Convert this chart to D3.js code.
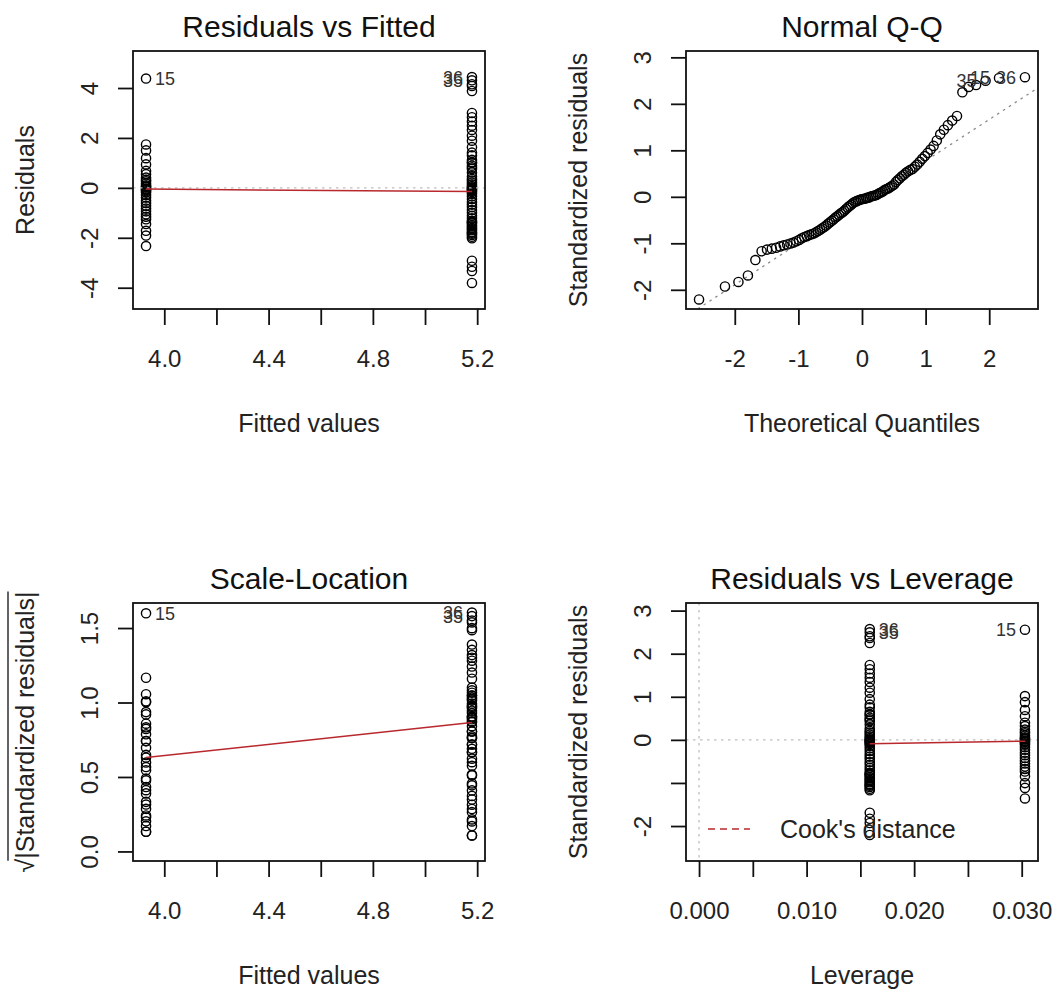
<!DOCTYPE html>
<html>
<head>
<meta charset="utf-8">
<script src="https://cdn.jsdelivr.net/npm/d3@7"></script>
<style>
  body { margin: 0; background: #fff; }
  svg { display: block; font-family: 'Liberation Sans', Arial, sans-serif; }
</style>
</head>
<body>
<div id="graph"></div>
<script>
// lm diagnostics (plot.lm style), model with only two fitted levels

// Fitted value of each group
const fittedLevels = [3.93, 5.18]

const residA = [4.38, 1.74, 1.50, 1.19, 0.94, 0.68, 0.55, 0.41, 0.32, 0.26, 0.17, 0.10, 0.05, 0.03,
  -0.03, -0.07, -0.09, -0.14, -0.19, -0.29, -0.39, -0.51, -0.61, -0.72, -0.83, -0.94, -1.06,
  -1.16, -1.26, -1.45, -1.72, -1.91, -2.33]
const idsA = ['15']

const residB = [4.44, 4.31, 4.15, 4.08, 3.88, 3.00, 2.83, 2.66, 2.49, 2.32, 2.09, 1.89, 1.63, 1.41,
  1.30, 1.12, 1.03, 1.00, 0.89, 0.82, 0.76, 0.62, 0.46, 0.36, 0.29, 0.21, 0.14, 0.07, 0.02, -0.02,
  -0.05, -0.08, -0.12, -0.17, -0.24, -0.34, -0.45, -0.57, -0.67, -0.77, -0.89, -1.00, -1.12, -1.22,
  -1.32, -1.36, -1.39, -1.42, -1.49, -1.54, -1.60, -1.65, -1.70, -1.77, -1.80, -1.84, -1.89, -1.96,
  -2.02, -2.92, -3.16, -3.33, -3.81]
const idsB = ['36', '35']

// Red smoother (lowess) values at the two x levels
const smoothFittedY = [-0.05, -0.15]
const smoothScaleY = [0.63, 0.865]
const smoothLeverageY = [-0.09, -0.03]   // at leverage of group B, then group A

// Ticks and their labels (R drops labels that would overlap)
const fittedTicks = [4.0, 4.2, 4.4, 4.6, 4.8, 5.0, 5.2]
const fittedTickLabels = ['4.0', '', '4.4', '', '4.8', '', '5.2']
const residTicks = [-4, -2, 0, 2, 4]
const residTickLabels = ['-4', '-2', '0', '2', '4']
const qqXTicks = [-2, -1, 0, 1, 2]
const qqXTickLabels = ['-2', '-1', '0', '1', '2']
const qqYTicks = [-2, -1, 0, 1, 2, 3]
const qqYTickLabels = ['-2', '-1', '0', '1', '2', '3']
const scaleTicks = [0, 0.5, 1, 1.5]
const scaleTickLabels = ['0.0', '0.5', '1.0', '1.5']
const levTicks = [0, 0.005, 0.01, 0.015, 0.02, 0.025, 0.03]
const levTickLabels = ['0.000', '', '0.010', '', '0.020', '', '0.030']
const levYTicks = [-2, -1, 0, 1, 2, 3]
const levYTickLabels = ['-2', '', '0', '1', '2', '3']

const RED = '#b8282d'
const W = 352, H = 258

// inverse normal cdf (Acklam)
function qnorm(p) {
  const a = [-3.969683028665376e+01, 2.209460984245205e+02, -2.759285104469687e+02, 1.383577518672690e+02, -3.066479806614716e+01, 2.506628277459239e+00]
  const b = [-5.447609879822406e+01, 1.615858368580409e+02, -1.556989798598866e+02, 6.680131188771972e+01, -1.328068155288572e+01]
  const c = [-7.784894002430293e-03, -3.223964580411365e-01, -2.400758277161838e+00, -2.549732539343734e+00, 4.374664141464968e+00, 2.938163982698783e+00]
  const d = [7.784695709041462e-03, 3.224671290700398e-01, 2.445134137142996e+00, 3.754408661907416e+00]
  const plow = 0.02425
  let q, r
  if (p < plow || p > 1 - plow) {
    q = Math.sqrt(-2 * Math.log(p < plow ? p : 1 - p))
    const v = (((((c[0] * q + c[1]) * q + c[2]) * q + c[3]) * q + c[4]) * q + c[5]) / ((((d[0] * q + d[1]) * q + d[2]) * q + d[3]) * q + 1)
    return p < plow ? v : -v
  }
  q = p - 0.5
  r = q * q
  return (((((a[0] * r + a[1]) * r + a[2]) * r + a[3]) * r + a[4]) * r + a[5]) * q /
    (((((b[0] * r + b[1]) * r + b[2]) * r + b[3]) * r + b[4]) * r + 1)
}

// Build the observations: leverage 1/n per group, standardized residuals
const groups = [
  { fitted: fittedLevels[0], resid: residA, ids: idsA },
  { fitted: fittedLevels[1], resid: residB, ids: idsB }
]
const n = residA.length + residB.length
const s = Math.sqrt(d3.sum(groups, g => d3.sum(g.resid, r => r * r)) / (n - 2))
const obs = []
groups.forEach(g => {
  g.h = 1 / g.resid.length
  g.resid.forEach((r, i) => {
    obs.push({ fitted: g.fitted, resid: r, h: g.h, std: r / (s * Math.sqrt(1 - g.h)), id: g.ids[i] || null })
  })
})
obs.forEach(o => { o.sqrtStd = Math.sqrt(Math.abs(o.std)) })
const sorted = obs.slice().sort((a, b) => a.std - b.std)
sorted.forEach((o, i) => { o.theo = qnorm((i + 0.5) / n) })

function extend(lim, f) {
  const d = lim[1] - lim[0]
  return [lim[0] - f * d, lim[1] + f * d]
}

const svg = d3.select('#graph').append('svg').attr('width', 1061).attr('height', 990)
svg.append('rect').attr('width', 1061).attr('height', 990).attr('fill', '#fff')

function panel(opt) {
  const g = svg.append('g').attr('transform', `translate(${opt.left},${opt.top})`)
  const x = d3.scaleLinear().domain(extend(opt.xlim, 0.04)).range([0, W])
  const y = d3.scaleLinear().domain(extend(opt.ylim, 0.04)).range([H, 0])

  g.append('clipPath').attr('id', 'clip' + opt.key)
    .append('rect').attr('width', W).attr('height', H)
  const plot = g.append('g').attr('clip-path', `url(#clip${opt.key})`)

  const xa = g.append('g').attr('transform', `translate(0,${H})`)
    .call(d3.axisBottom(x).tickValues(opt.xTicks).tickSize(16).tickPadding(25)
      .tickFormat((d, i) => opt.xLabels[i]))
  const ya = g.append('g')
    .call(d3.axisLeft(y).tickValues(opt.yTicks).tickSize(15)
      .tickFormat((d, i) => opt.yLabels[i]))
  ya.selectAll('text')
    .attr('x', null).attr('dy', null)
    .attr('text-anchor', 'middle')
    .attr('transform', 'translate(-35,0) rotate(-90)')
  ;[xa, ya].forEach(a => {
    a.select('.domain').remove()
    a.attr('font-size', 24).attr('font-family', null)
    a.selectAll('line').attr('stroke', '#111').attr('stroke-width', 1.8)
    a.selectAll('text').attr('fill', '#222')
  })

  g.append('text').attr('x', W / 2).attr('y', -14).attr('text-anchor', 'middle')
    .attr('font-size', 30).attr('fill', '#111').text(opt.title)
  g.append('text').attr('x', W / 2).attr('y', H + 123).attr('text-anchor', 'middle')
    .attr('font-size', 25).attr('fill', '#222').text(opt.xlab)
  const yl = g.append('text').attr('transform', `translate(-99,${H / 2}) rotate(-90)`)
    .attr('text-anchor', 'middle').attr('font-size', 25).attr('fill', '#222').text(opt.ylab)

  return { g, plot, x, y, yl }
}

function drawPoints(p, data, fx, fy) {
  p.plot.selectAll('circle.pt').data(data).join('circle')
    .attr('class', 'pt')
    .attr('cx', d => p.x(fx(d)))
    .attr('cy', d => p.y(fy(d)))
    .attr('r', 4.6)
    .attr('fill', 'none')
    .attr('stroke', '#000')
    .attr('stroke-width', 1.4)
}

// label points to the right when they sit in the left half, otherwise to the left
function drawLabels(p, data, fx, fy) {
  const xs = d3.extent(obs, fx)
  const mid = (xs[0] + xs[1]) / 2
  p.g.selectAll('text.lab').data(data.filter(d => d.id)).join('text')
    .attr('class', 'lab')
    .attr('x', d => p.x(fx(d)) + (fx(d) > mid ? -9 : 9))
    .attr('y', d => p.y(fy(d)))
    .attr('dy', '0.36em')
    .attr('text-anchor', d => fx(d) > mid ? 'end' : 'start')
    .attr('font-size', 18)
    .attr('fill', '#333')
    .text(d => d.id)
}

function drawBox(p) {
  p.g.append('rect').attr('width', W).attr('height', H)
    .attr('fill', 'none').attr('stroke', '#111').attr('stroke-width', 1.8)
}

function grayLine(p, x1, y1, x2, y2, color) {
  p.plot.append('line')
    .attr('x1', x1).attr('y1', y1).attr('x2', x2).attr('y2', y2)
    .attr('stroke', color || '#bebebe').attr('stroke-width', 1.3)
    .attr('stroke-dasharray', '2.5,4.5')
}

function smooth(p, xs, ys) {
  p.plot.append('path')
    .datum(xs.map((v, i) => [v, ys[i]]))
    .attr('fill', 'none')
    .attr('stroke', RED)
    .attr('stroke-width', 1.5)
    .attr('d', d3.line().x(d => p.x(d[0])).y(d => p.y(d[1])))
}

// 1. Residuals vs Fitted
const p1 = panel({
  key: 1, left: 133, top: 51,
  xlim: d3.extent(obs, d => d.fitted), ylim: extend(d3.extent(obs, d => d.resid), 0.08),
  xTicks: fittedTicks, xLabels: fittedTickLabels, yTicks: residTicks, yLabels: residTickLabels,
  title: 'Residuals vs Fitted', xlab: 'Fitted values', ylab: 'Residuals'
})
drawPoints(p1, obs, d => d.fitted, d => d.resid)
grayLine(p1, 0, p1.y(0), W, p1.y(0))
smooth(p1, fittedLevels, smoothFittedY)
drawLabels(p1, obs, d => d.fitted, d => d.resid)
drawBox(p1)

// 2. Normal Q-Q
const qqYlim = d3.extent(obs, d => d.std)
qqYlim[1] += (qqYlim[1] - qqYlim[0]) * 0.075
const p2 = panel({
  key: 2, left: 686, top: 51,
  xlim: d3.extent(sorted, d => d.theo), ylim: qqYlim,
  xTicks: qqXTicks, xLabels: qqXTickLabels, yTicks: qqYTicks, yLabels: qqYTickLabels,
  title: 'Normal Q-Q', xlab: 'Theoretical Quantiles', ylab: 'Standardized residuals'
})
{
  const stds = sorted.map(d => d.std)
  const y25 = d3.quantile(stds, 0.25), y75 = d3.quantile(stds, 0.75)
  const x25 = qnorm(0.25), x75 = qnorm(0.75)
  const slope = (y75 - y25) / (x75 - x25)
  const icpt = y25 - slope * x25
  const [d0, d1] = p2.x.domain()
  grayLine(p2, p2.x(d0), p2.y(icpt + slope * d0), p2.x(d1), p2.y(icpt + slope * d1), '#8a8a8a')
}
drawPoints(p2, sorted, d => d.theo, d => d.std)
drawLabels(p2, sorted, d => d.theo, d => d.std)
drawBox(p2)

// 3. Scale-Location
const p3 = panel({
  key: 3, left: 133, top: 603,
  xlim: d3.extent(obs, d => d.fitted), ylim: [0, d3.max(obs, d => d.sqrtStd)],
  xTicks: fittedTicks, xLabels: fittedTickLabels, yTicks: scaleTicks, yLabels: scaleTickLabels,
  title: 'Scale-Location', xlab: 'Fitted values', ylab: ''
})
drawPoints(p3, obs, d => d.fitted, d => d.sqrtStd)
smooth(p3, fittedLevels, smoothScaleY)
drawLabels(p3, obs, d => d.fitted, d => d.sqrtStd)
drawBox(p3)
{
  // y label: sqrt(|Standardized residuals|) with the radical bar
  p3.yl.text(null)
  p3.yl.append('tspan').text('\u221A')
  p3.yl.append('tspan').text('|Standardized residuals|')
  const node = p3.yl.node()
  const total = node.getComputedTextLength()
  const rad = node.getSubStringLength(0, 1)
  p3.g.append('line')
    .attr('transform', `translate(-99,${H / 2}) rotate(-90)`)
    .attr('x1', -total / 2 + rad * 0.85).attr('x2', total / 2)
    .attr('y1', -26).attr('y2', -26)
    .attr('stroke', '#222').attr('stroke-width', 1.4)
}

// 4. Residuals vs Leverage
const p4 = panel({
  key: 4, left: 686, top: 603,
  xlim: [0, d3.max(obs, d => d.h)], ylim: extend(d3.extent(obs, d => d.std), 0.08),
  xTicks: levTicks, xLabels: levTickLabels, yTicks: levYTicks, yLabels: levYTickLabels,
  title: 'Residuals vs Leverage', xlab: 'Leverage', ylab: 'Standardized residuals'
})
grayLine(p4, 0, p4.y(0), W, p4.y(0))
grayLine(p4, p4.x(0), 0, p4.x(0), H)
drawPoints(p4, obs, d => d.h, d => d.std)
smooth(p4, [groups[1].h, groups[0].h], smoothLeverageY)
drawLabels(p4, obs, d => d.h, d => d.std)
drawBox(p4)
{
  // legend, bottom left inside the box
  const ly = H - 32
  p4.g.append('line').attr('x1', 22).attr('x2', 64).attr('y1', ly).attr('y2', ly)
    .attr('stroke', RED).attr('stroke-width', 1.3).attr('stroke-dasharray', '7,5')
  p4.g.append('text').attr('x', 94).attr('y', ly).attr('dy', '0.36em')
    .attr('font-size', 25).attr('fill', '#222').text("Cook's distance")
}
</script>
</body>
</html>
